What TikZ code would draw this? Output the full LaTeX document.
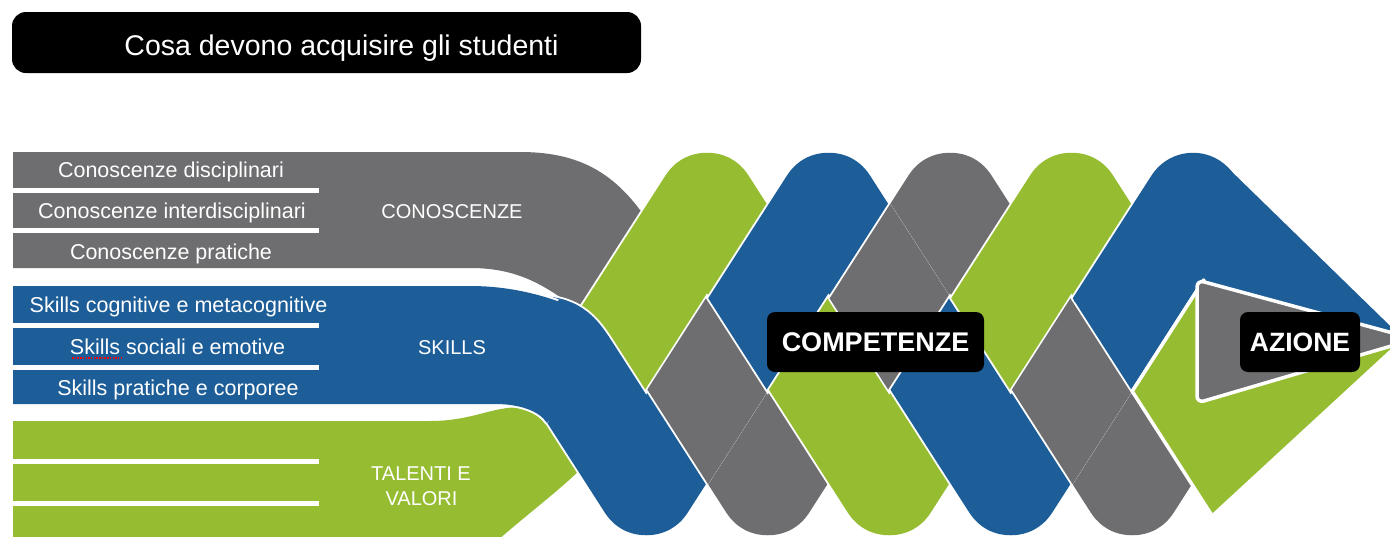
\documentclass[tikz,border=0pt]{standalone}
\usepackage{fontspec}
\setmainfont{Liberation Sans}
\definecolor{cgray}{RGB}{110,109,111}
\definecolor{cblue}{RGB}{29,94,152}
\definecolor{cgreen}{RGB}{150,189,50}
\newcommand\ypath{(648.4,300) -- (767.75,486) -- (950,202) -- (1132.25,486) -- (1232.3,330)}
\newcommand\gpath{(579.9,400) -- (707,202) -- (889.25,486) -- (1071.5,202) -- (1198.6,400)}
\newcommand\bpath{(330,345) -- (522.97,345) .. controls (555.77,345) .. (573.48,372.6) -- (646.25,486) -- (828.5,202) -- (1010.75,486) -- (1193,202)}
\newcommand\mybandD[1]{({#1-65.45-60.75},100) -- ({#1-65.45+60.75},100) -- ({#1+255.4+60.75},600) -- ({#1+255.4-60.75},600) -- cycle}
\newcommand\mybandS[1]{({#1+247.7-60.75},100) -- ({#1+247.7+60.75},100) -- ({#1-73.15+60.75},600) -- ({#1-73.15-60.75},600) -- cycle}
\tikzset{
  casing/.style={white, line width=102.3pt, line join=round},
  strand/.style={line width=98.5pt, line join=round},
  lbl/.style={anchor=base, white, inner sep=0pt, font=\fontsize{21.5}{24}\selectfont},
  catlbl/.style={anchor=base, white, inner sep=0pt, font=\fontsize{20}{23}\selectfont},
  blackbox/.style={fill=black, rounded corners=8pt, text=white, inner sep=0pt},
}
\begin{document}
\begin{tikzpicture}[x=1pt,y=-1pt]
\path[use as bounding box] (0,0) rectangle (1390,536);
\clip (0,0) rectangle (1390,536);
\fill[white] (0,0) rectangle (1390,536);

% title
\node[fill=black, rounded corners=14pt, minimum width=629pt, minimum height=61pt, inner sep=0pt] (titlebox) at (326.5,42.5) {};
\node[anchor=base, white, inner sep=0pt, font=\fontsize{28.5}{31}\selectfont] (titletext) at (341.5,55.5) {Cosa devono acquisire gli studenti};

% gray strand (conoscenze)
\fill[cgray] (13,152) -- (520,152) .. controls (575,152) and (610,170) .. (640,210) -- (700,265) -- (680,330) -- (620,380) -- (580,330) -- (560,297) .. controls (535,280) and (510,268) .. (470,268) -- (13,268) -- cycle;
\draw[casing] \ypath;
\draw[strand, cgray] \ypath;

% green strand (talenti)
\fill[cgreen] (13,421) -- (430,421) .. controls (470,421) and (490,408) .. (515,407.5) -- (560,385) -- (610,420) -- (595,440) -- (585,465) .. controls (560,490) and (530,512) .. (498,540) -- (13,540) -- cycle;
\draw[casing] \gpath;
\draw[strand, cgreen] \gpath;

% blue strand (skills)
\draw[casing, line cap=round] \bpath;
\draw[strand, cblue, line cap=round] \bpath;
\draw[white, line width=4pt] (10,286) -- (470,286) .. controls (505,286) and (535,292.96) .. (558,301.2);
\draw[white, line width=4pt] (547,423) .. controls (539.3,411) and (520,404) .. (495,404) -- (10,404);
\fill[cblue] (13,286) -- (470,286) .. controls (505,286) and (535,292.96) .. (560,301.94) -- (590,360) -- (547,423) .. controls (539.3,411) and (520,404) .. (495,404) -- (13,404) -- cycle;

% strip separators
\foreach \yy in {190.5,230.4,325.7,367.3,461.6,503.6}
  \draw[white, line width=5.5pt] (10,\yy) -- (319,\yy);

% crossings where gray lies over blue
\begin{scope}
  \clip \mybandS{767.75};
  \clip \mybandD{828.5};
  \draw[casing] \ypath;
  \draw[strand, cgray] \ypath;
\end{scope}
\begin{scope}
  \clip \mybandD{585.5};
  \clip \mybandS{646.25};
  \draw[casing] \ypath;
  \draw[strand, cgray] \ypath;
\end{scope}
\begin{scope}
  \clip \mybandD{950};
  \clip \mybandS{1010.75};
  \draw[casing] \ypath;
  \draw[strand, cgray] \ypath;
\end{scope}

% arrow
\fill[cblue] (1193,202) -- (1227,167) -- (1402,337.5) -- (1300,320) -- (1200,300) -- cycle;
\filldraw[fill=cgreen, draw=white, line width=3.5pt, line join=round] (1132.2,391.3) -- (1203.7,280) -- (1210,300) -- (1402,341) -- (1212.25,516) -- cycle;
\filldraw[fill=cgray, draw=white, line width=3.5pt, rounded corners=7pt] (1197,280) -- (1415,339) -- (1197,403) -- cycle;

% left labels
\node[lbl] (cdis) at (171,177) {Conoscenze disciplinari};
\node[lbl] (cint) at (172,218.5) {Conoscenze interdisciplinari};
\node[lbl] (cpra) at (171,259) {Conoscenze pratiche};
\node[lbl] (scog) at (178.5,312.5) {Skills cognitive e metacognitive};
\node[lbl] (ssoc) at (177.5,354) {Skills sociali e emotive};
\node[lbl] (spra) at (178,395) {Skills pratiche e corporee};
\draw[red, line width=1.2pt, dash pattern=on 1.5pt off 1.2pt] (72,358) -- (123,358);

% category labels
\node[catlbl] (conosc) at (452,218) {CONOSCENZE};
\node[catlbl] (skills) at (452,354.5) {SKILLS};
\node[catlbl] (tal1) at (421,480) {TALENTI E};
\node[catlbl] (tal2) at (421.5,505) {VALORI};

% boxes
\node[blackbox, minimum width=217pt, minimum height=60pt, font=\bfseries\fontsize{27}{30}\selectfont] (comp) at (875.5,342) {COMPETENZE};
\node[blackbox, minimum width=120pt, minimum height=60pt, font=\bfseries\fontsize{26.5}{30}\selectfont] (azione) at (1300,342) {AZIONE};
\end{tikzpicture}
\end{document}
